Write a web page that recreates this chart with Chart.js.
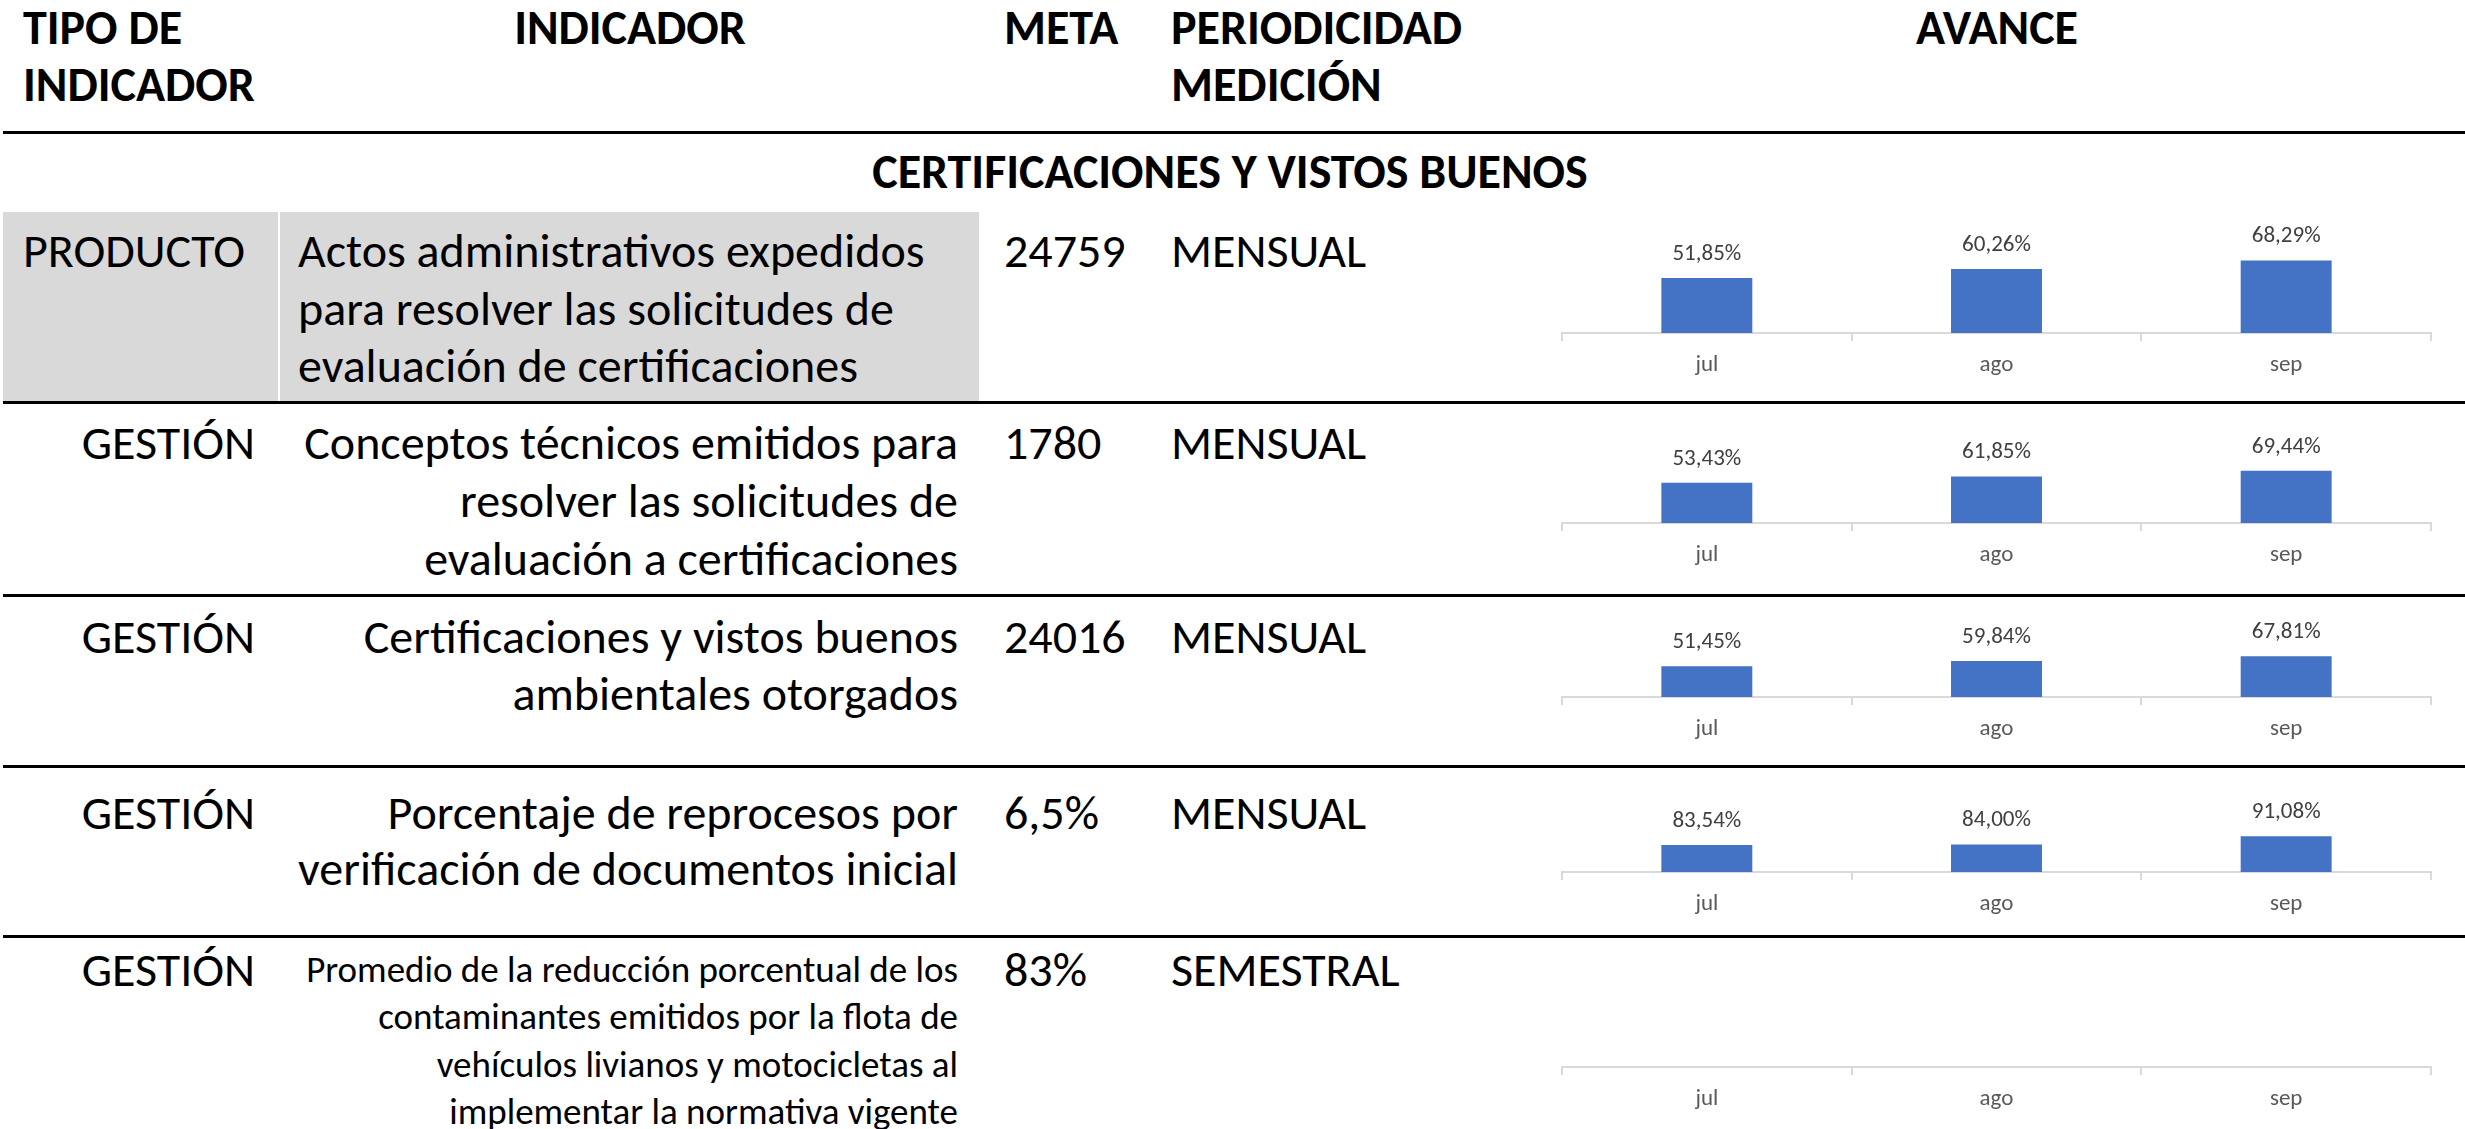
<!DOCTYPE html>
<html lang="es">
<head>
<meta charset="utf-8">
<title>Avance indicadores</title>
<script src="https://cdn.jsdelivr.net/npm/chart.js@4.4.0/dist/chart.umd.min.js"></script>
<style>
  body { margin: 0; background: #fff; }
  #page {
    position: relative; width: 2465px; height: 1129px; overflow: hidden;
    font-family: Carlito, "Liberation Sans Narrow", "DejaVu Sans Condensed", sans-serif;
    color: #000;
  }
  .t { position: absolute; white-space: nowrap; }
  .rule { position: absolute; left: 3px; right: 0; height: 3px; background: #000; }
  .gray { position: absolute; background: #d9d9d9; }
  canvas { position: absolute; }
</style>
</head>
<body>
<div id="page">
  <div class="gray" style="left:3px;top:212px;width:275px;height:190px"></div>
  <div class="gray" style="left:280px;top:212px;width:699px;height:190px"></div>
  <div class="rule" style="top:131px"></div>
  <div class="rule" style="top:401px"></div>
  <div class="rule" style="top:594px"></div>
  <div class="rule" style="top:765px"></div>
  <div class="rule" style="top:935px"></div>
</div>
<script>
const FUENTE = 'Carlito, "Liberation Sans Narrow", "DejaVu Sans Condensed", sans-serif';

// Datos
const meses = ['jul', 'ago', 'sep'];
const avanceActos = [51.85, 60.26, 68.29];
const avanceConceptos = [53.43, 61.85, 69.44];
const avanceCertificaciones = [51.45, 59.84, 67.81];
const avanceReprocesos = [83.54, 84.00, 91.08];
const avancePromedio = [null, null, null]; // semestral, sin dato aún

const tipos = ['PRODUCTO', 'GESTIÓN', 'GESTIÓN', 'GESTIÓN', 'GESTIÓN'];
const indicadores = [
  ['Actos administrativos expedidos', 'para resolver las solicitudes de', 'evaluación de certificaciones'],
  ['Conceptos técnicos emitidos para', 'resolver las solicitudes de', 'evaluación a certificaciones'],
  ['Certificaciones y vistos buenos', 'ambientales otorgados'],
  ['Porcentaje de reprocesos por', 'verificación de documentos inicial'],
  ['Promedio de la reducción porcentual de los', 'contaminantes emitidos por la flota de', 'vehículos livianos y motocicletas al', 'implementar la normativa vigente']
];
const metas = ['24759', '1780', '24016', '6,5%', '83%'];
const periodicidad = ['MENSUAL', 'MENSUAL', 'MENSUAL', 'MENSUAL', 'SEMESTRAL'];

const page = document.getElementById('page');

function texto(str, x, y, opts) {
  opts = opts || {};
  const size = opts.size || 48;
  const lh = Math.round(size * 1.2);
  const d = document.createElement('div');
  d.className = 't';
  d.textContent = str;
  d.style.fontSize = size + 'px';
  d.style.lineHeight = lh + 'px';
  d.style.top = (y - lh / 2) + 'px';
  if (opts.bold) d.style.fontWeight = 'bold';
  if (opts.align === 'right') {
    d.style.right = (2465 - x) + 'px';
  } else if (opts.align === 'center') {
    d.style.left = (x - 1000) + 'px';
    d.style.width = '2000px';
    d.style.textAlign = 'center';
  } else {
    d.style.left = x + 'px';
  }
  page.appendChild(d);
}

// Encabezado
texto('TIPO DE', 23, 28, { bold: true });
texto('INDICADOR', 23, 85, { bold: true });
texto('INDICADOR', 630, 28, { bold: true, align: 'center' });
texto('META', 1004, 28, { bold: true });
texto('PERIODICIDAD', 1171, 28, { bold: true });
texto('MEDICIÓN', 1171, 85, { bold: true });
texto('AVANCE', 1997, 28, { bold: true, align: 'center' });
texto('CERTIFICACIONES Y VISTOS BUENOS', 1230, 172, { bold: true, align: 'center' });

// Filas de la tabla
const lineasY = [
  [251, 309, 366],
  [443, 501, 559],
  [637, 694],
  [813, 869],
  [970, 1017, 1065, 1112]
];
tipos.forEach((tipo, i) => {
  const y0 = lineasY[i][0];
  if (i === 0) texto(tipo, 23, y0);
  else texto(tipo, 255, y0, { align: 'right' });
  indicadores[i].forEach((linea, j) => {
    const y = lineasY[i][j];
    if (i === 0) texto(linea, 298, y);
    else texto(linea, 958, y, { align: 'right', size: i === 4 ? 37 : 48 });
  });
  texto(metas[i], 1004, y0);
  texto(periodicidad[i], 1171, y0);
});

// Etiquetas de valor encima de las barras
const etiquetas = {
  id: 'etiquetas',
  afterDatasetsDraw(chart) {
    const ctx = chart.ctx;
    const valores = chart.data.datasets[0].data;
    ctx.save();
    ctx.font = '23px ' + FUENTE;
    ctx.fillStyle = '#404040';
    ctx.textAlign = 'center';
    ctx.textBaseline = 'middle';
    chart.getDatasetMeta(0).data.forEach((bar, i) => {
      const v = valores[i];
      if (v == null) return;
      ctx.fillText(v.toFixed(2).replace('.', ',') + '%', bar.x, bar.y - 24);
    });
    ctx.restore();
  }
};

// Minigráficos de avance
const series = [avanceActos, avanceConceptos, avanceCertificaciones, avanceReprocesos, avancePromedio];
const ejeY = [333, 523, 697, 872, 1067];   // posición del eje x
const topeY = [212, 405, 598, 769, 939];   // parte alta del área
const minY = [0, 0, 0, 60, 0];
const maxY = [114, 157, 165, 149.6, 100];
const ALTO_EJE = 50;

series.forEach((datos, i) => {
  const c = document.createElement('canvas');
  const alto = ejeY[i] - topeY[i] + ALTO_EJE;
  c.width = 877;
  c.height = alto;
  c.style.left = '1558px';
  c.style.top = topeY[i] + 'px';
  c.style.width = '877px';
  c.style.height = alto + 'px';
  page.appendChild(c);

  new Chart(c, {
    type: 'bar',
    data: {
      labels: meses,
      datasets: [{
        data: datos,
        backgroundColor: '#4472C4',
        borderWidth: 0,
        barPercentage: 0.314,
        categoryPercentage: 1
      }]
    },
    options: {
      responsive: false,
      animation: false,
      devicePixelRatio: 1,
      layout: { padding: { left: 4, right: 4, top: 0, bottom: 0 } },
      plugins: { legend: { display: false }, tooltip: { enabled: false } },
      scales: {
        x: {
          afterFit: (s) => { s.height = ALTO_EJE; },
          grid: {
            offset: true,
            drawOnChartArea: false,
            drawTicks: true,
            tickLength: 8,
            color: '#d9d9d9',
            lineWidth: 2
          },
          border: { display: true, color: '#d9d9d9', width: 2 },
          ticks: {
            color: '#595959',
            padding: 10,
            font: { family: FUENTE, size: 23 }
          }
        },
        y: { display: false, min: minY[i], max: maxY[i] }
      }
    },
    plugins: [etiquetas]
  });
});
</script>
</body>
</html>
